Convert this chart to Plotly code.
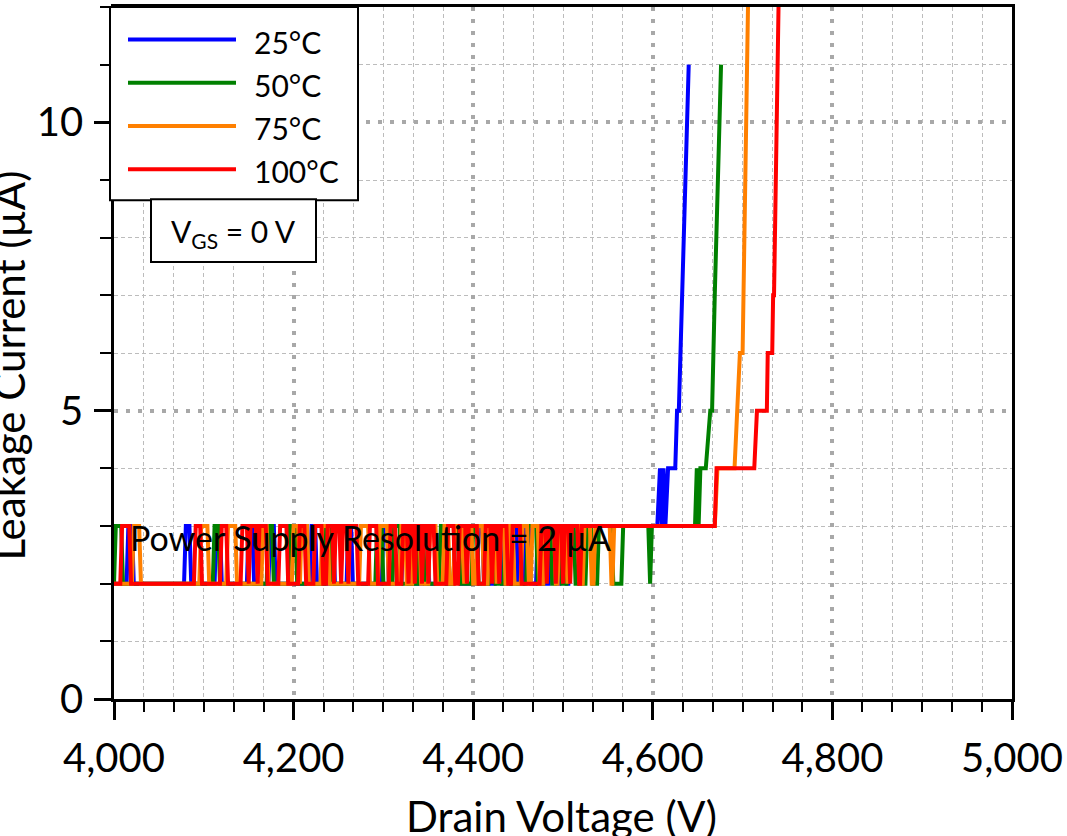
import plotly.graph_objects as go

# Drain voltage sweep: leakage current at four case temperatures (V_GS = 0 V)
FONT = "Lato"
STEP = 2.0          # V between readings at each reading change
I_LOW, I_HIGH = 2, 3  # the two readings the supply toggles between (uA)

temps = ["25°C", "50°C", "75°C", "100°C"]
colors = ["#0000FF", "#008000", "#FF8000", "#FF0000"]

# Voltage windows (V) where the reading sits at I_HIGH during the noisy part of the sweep
blue_hi = [(4016, 4020), (4080, 4084), (4114, 4118), (4150, 4154), (4174, 4178), (4220, 4224),
           (4240, 4244), (4261, 4264), (4300, 4304), (4322, 4326), (4345, 4349), (4380, 4384),
           (4406, 4410), (4426, 4430), (4444, 4448), (4458, 4462), (4472, 4476), (4486, 4490),
           (4498, 4502)]
green_hi = [(4002, 4008), (4112, 4116), (4172, 4176), (4196, 4202), (4236, 4240), (4293, 4298),
            (4312, 4318), (4340, 4344), (4364, 4368), (4380, 4384), (4400, 4404), (4419, 4423),
            (4436, 4440), (4461, 4470), (4480, 4486), (4493, 4497), (4506, 4512), (4527, 4531),
            (4540, 4554), (4567, 4595)]
orange_hi = [(4022, 4028), (4097, 4104), (4127, 4135), (4166, 4170), (4200, 4205), (4209, 4215),
             (4232, 4238), (4275, 4283), (4296, 4304), (4320, 4324), (4334, 4340), (4352, 4358),
             (4368, 4372), (4380, 4387), (4392, 4398), (4405, 4410), (4418, 4424), (4428, 4434),
             (4440, 4444), (4455, 4460), (4466, 4472), (4480, 4490), (4496, 4502), (4507, 4518),
             (4524, 4530), (4536, 4552)]
red_hi = [(4009, 4017), (4091, 4096), (4120, 4125), (4143, 4148), (4152, 4158), (4162, 4169),
          (4185, 4192), (4207, 4212), (4224, 4231), (4238, 4243), (4247, 4251), (4255, 4259),
          (4263, 4270), (4285, 4292), (4308, 4313), (4322, 4326), (4330, 4333), (4337, 4341),
          (4345, 4348), (4352, 4356), (4372, 4378), (4385, 4391), (4395, 4404), (4414, 4419),
          (4423, 4427), (4431, 4437), (4444, 4452), (4476, 4480), (4484, 4490), (4494, 4498),
          (4502, 4506), (4510, 4516)]

# Readings from the point each curve settles at I_HIGH through breakdown
blue_rise_v = [4508, 4605, 4608, 4610, 4612, 4614, 4617, 4625, 4627, 4629, 4640]
blue_rise_i = [3, 3, 4, 3, 4, 3, 4, 4, 5, 5, 11]
green_rise_v = [4599, 4647, 4649, 4651, 4653, 4659, 4664, 4666, 4669, 4676]
green_rise_i = [3, 3, 4, 3, 4, 4, 5, 5, 7, 11]
orange_rise_v = [4557, 4669, 4672, 4691, 4697, 4700, 4701, 4706]
orange_rise_i = [3, 3, 4, 4, 6, 6, 7, 12]
red_rise_v = [4521, 4669, 4671, 4713, 4716, 4727, 4728, 4733, 4734, 4735, 4740]
red_rise_i = [3, 3, 4, 4, 5, 5, 6, 6, 7, 7, 12]

series = [
    (blue_hi, blue_rise_v, blue_rise_i),
    (green_hi, green_rise_v, green_rise_i),
    (orange_hi, orange_rise_v, orange_rise_i),
    (red_hi, red_rise_v, red_rise_i),
]


def build_curve(hi, rise_v, rise_i, start=4000.0):
    xs, ys = [start], [I_LOW]
    for a, b in hi:
        xs += [a - STEP, a, b, b + STEP]
        ys += [I_LOW, I_HIGH, I_HIGH, I_LOW]
    xs += [rise_v[0] - STEP] + list(rise_v)
    ys += [I_LOW] + list(rise_i)
    return xs, ys


fig = go.Figure()
for name, col, (hi, rv, ri) in zip(temps, colors, series):
    xs, ys = build_curve(hi, rv, ri)
    fig.add_trace(go.Scatter(x=xs, y=ys, mode="lines", name=name,
                             line=dict(color=col, width=4), showlegend=False))

# plot-area geometry in pixels
L, R, T, B = 114, 1012, 4, 699
W, H = R - L, B - T


def px(x):
    return (x - L) / W


def py(y):
    return (B - y) / H


shapes = []
annotations = []

# legend box with sample lines
shapes.append(dict(type="rect", xref="paper", yref="paper", x0=px(110), x1=px(358),
                   y0=py(198), y1=py(4), line=dict(color="black", width=2), fillcolor="white",
                   layer="above"))
for k, (name, col) in enumerate(zip(temps, colors)):
    yy = 36.7 + k * 43.4
    shapes.append(dict(type="line", xref="paper", yref="paper", x0=px(128), x1=px(236),
                       y0=py(yy), y1=py(yy), line=dict(color=col, width=4), layer="above"))
    annotations.append(dict(xref="paper", yref="paper", x=px(252), y=py(yy + 2), text=name,
                            showarrow=False, xanchor="left", yanchor="middle",
                            font=dict(family=FONT, size=30, color="black")))

# gate-bias note box
shapes.append(dict(type="rect", xref="paper", yref="paper", x0=px(151), x1=px(316),
                   y0=py(260), y1=py(197), line=dict(color="black", width=2), fillcolor="white",
                   layer="above"))
annotations.append(dict(xref="paper", yref="paper", x=px(233.5), y=py(231),
                        text="V<sub>GS</sub> = 0 V", showarrow=False, xanchor="center",
                        yanchor="middle", font=dict(family=FONT, size=30, color="black")))

annotations.append(dict(xref="x", yref="y", x=4016, y=2.8, text="Power Supply Resolution = 2 µA",
                        showarrow=False, xanchor="left", yanchor="middle",
                        font=dict(family=FONT, size=34, color="black")))

# axis titles
annotations.append(dict(xref="paper", yref="paper", x=px(561), y=py(817), text="Drain Voltage (V)",
                        showarrow=False, xanchor="center", yanchor="middle",
                        font=dict(family=FONT, size=42, color="black")))
annotations.append(dict(xref="paper", yref="paper", x=px(9), y=py(364), text="Leakage Current (µA)",
                        showarrow=False, xanchor="center", yanchor="middle", textangle=-90,
                        font=dict(family=FONT, size=42, color="black")))

major_grid = dict(showgrid=True, gridcolor="#a8a8a8", gridwidth=3.5, griddash="4px,8px")
axis_common = dict(showline=True, linecolor="black", linewidth=2.5, mirror=True,
                   ticks="outside", tickcolor="black", tickwidth=2.5, zeroline=False,
                   tickfont=dict(family=FONT, size=40, color="black"), **major_grid)

fig.update_layout(
    width=1067, height=836,
    margin=dict(l=L, r=1067 - R, t=T, b=836 - B),
    paper_bgcolor="white", plot_bgcolor="white",
    xaxis=dict(range=[4000, 5000], tick0=4000, dtick=200, tickformat=",d", ticklen=18,
               ticklabelstandoff=4,
               minor=dict(tick0=4000, dtick=200 / 6, ticks="outside", ticklen=10, tickwidth=2,
                          tickcolor="black", showgrid=True, gridcolor="#bcbcbc", gridwidth=1.3,
                          griddash="4px,3px"),
               **axis_common),
    yaxis=dict(range=[0, 12], tick0=0, dtick=5, ticklen=17, ticklabelstandoff=3,
               minor=dict(tick0=0, dtick=1, ticks="outside", ticklen=11, tickwidth=2,
                          tickcolor="black", showgrid=True, gridcolor="#bcbcbc", gridwidth=1.3,
                          griddash="4px,3px"),
               **axis_common),
    shapes=shapes,
    annotations=annotations,
    showlegend=False,
)

fig.write_html("out.html")
